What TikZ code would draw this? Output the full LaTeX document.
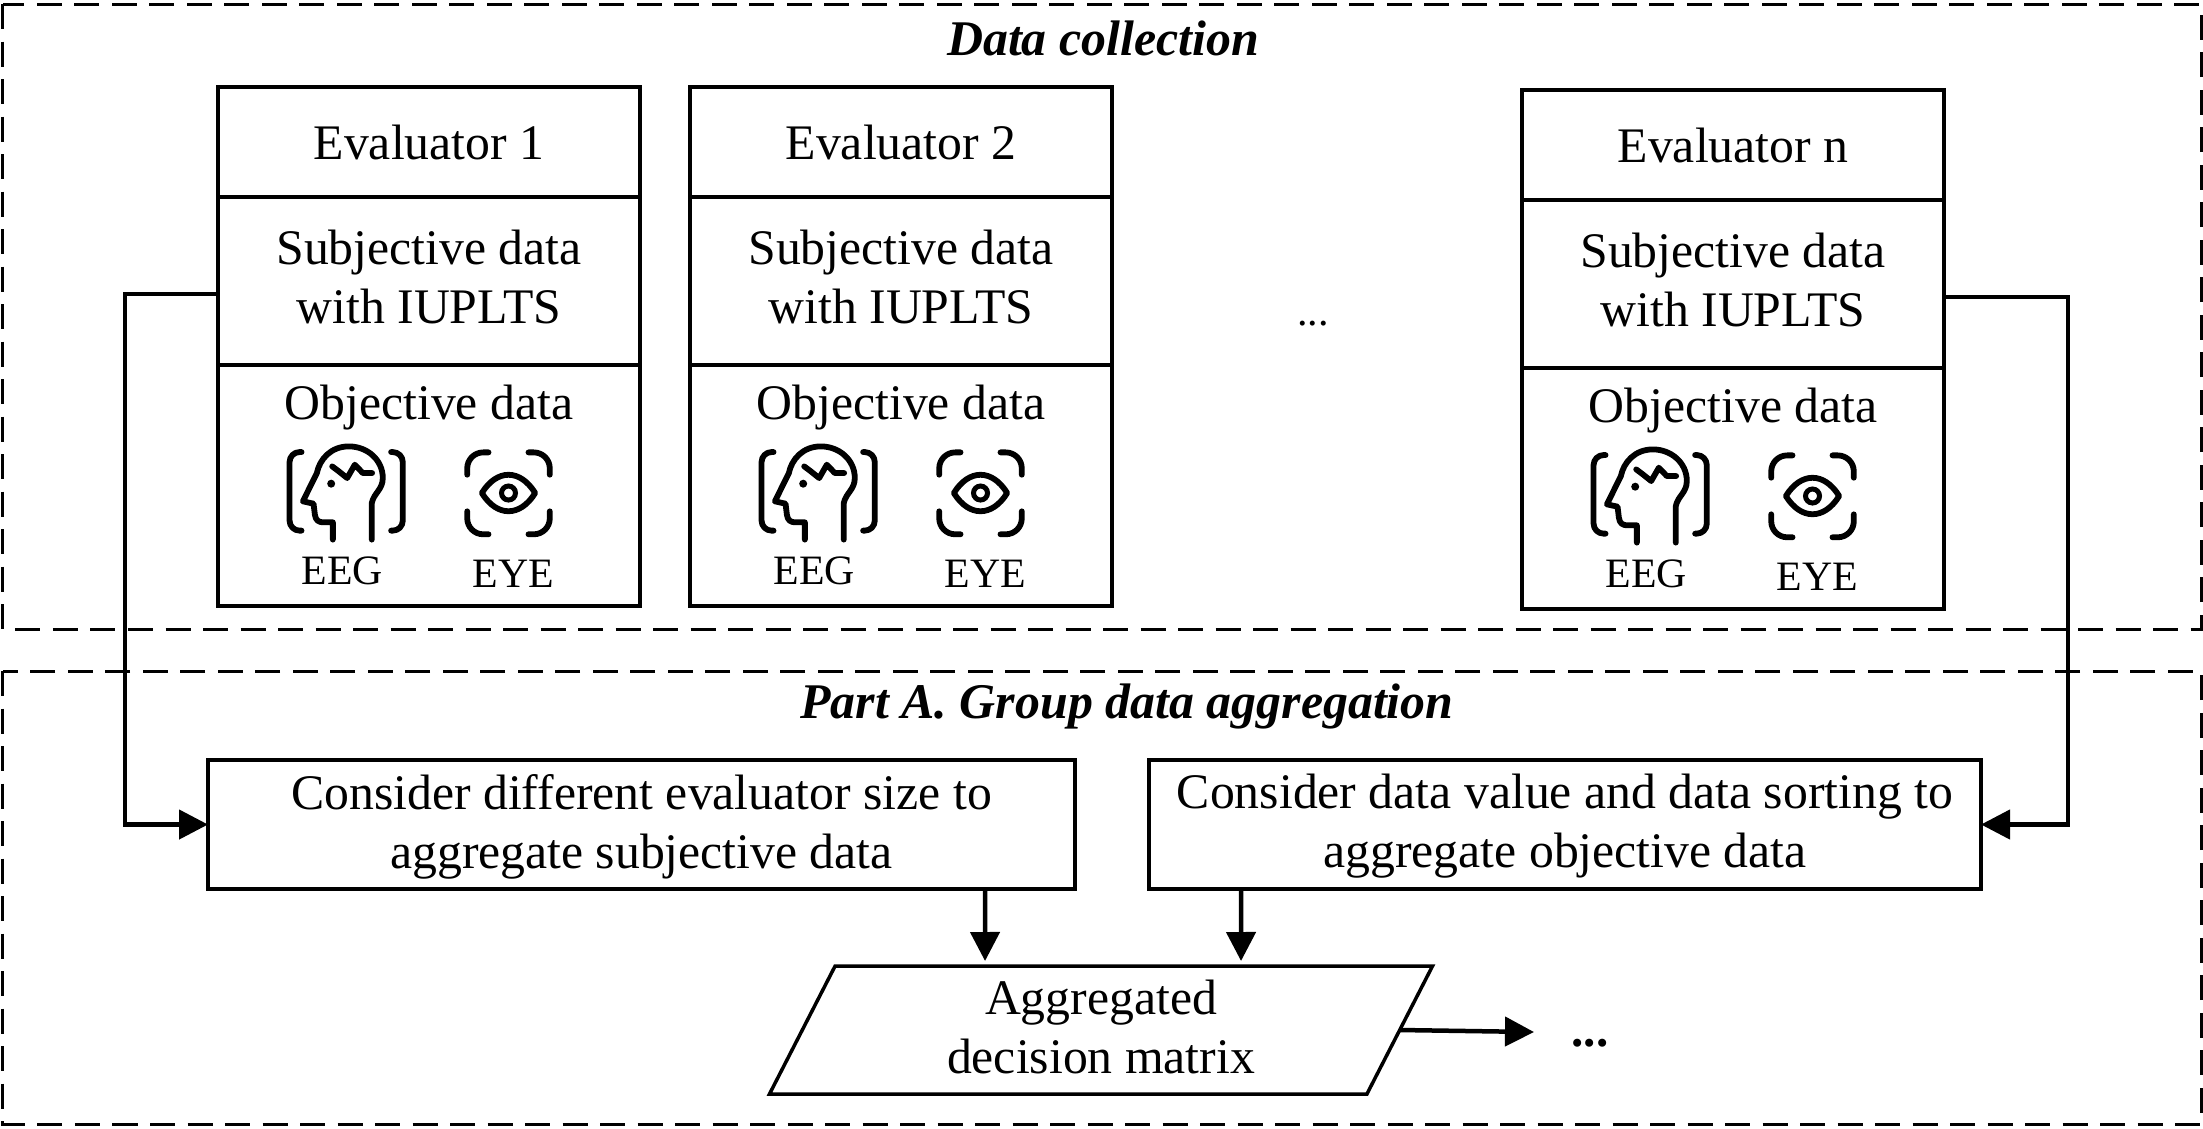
\documentclass[tikz,border=0pt]{standalone}
\usepackage{fontspec}
\setmainfont{Liberation Serif}
\usetikzlibrary{arrows.meta,shapes.geometric}
\tikzset{
  framebox/.style={line width=.03cm, dash pattern=on .25cm off .125cm},
  bodytext/.style={font=\fontsize{14.15}{16.8}\selectfont, align=center, inner sep=0pt},
  titletext/.style={font=\fontsize{14.2}{17}\selectfont\bfseries\itshape, inner sep=0pt, anchor=base},
  cellbox/.style={draw, line width=.035cm, bodytext, minimum width=4.22cm, outer sep=0pt},
  smalltext/.style={font=\fontsize{11.9}{14}\selectfont, inner sep=0pt, anchor=base},
  conn/.style={line width=.045cm, -{Triangle[length=.29cm,width=.29cm]}},
  iconline/.style={line width=.058cm, line cap=round, line join=round},
  pics/headicon/.style={code={
    \begin{scope}[x=.0333cm,y=.0333cm]
      \draw[iconline] (7.9,-14) -- (7.9,-3) .. controls (8.5,0) and (11.2,1) .. (11.2,4.5)
        .. controls (11.2,10) and (6.5,14) .. (1,14) .. controls (-4.5,14) and (-7.8,10) .. (-8.6,6)
        -- (-12.8,-2.5) -- (-9.6,-3.2) -- (-9.2,-6.5) .. controls (-9,-8.2) and (-8,-8.8) .. (-6.8,-8.8)
        -- (-3.8,-8.8) -- (-3.8,-14);
      \draw[iconline] (-4,8) -- (-2,6.5) -- (.5,4.5) -- (2.8,8.5) -- (5.2,6) -- (8,6);
      \fill (-4.3,2.8) circle (1.2);
      \draw[iconline, rounded corners=.1cm] (-13.2,12.3) -- (-16.8,12.3) -- (-16.8,-11.3) -- (-13.2,-11.3);
      \draw[iconline, rounded corners=.1cm] (13.7,12.3) -- (17.2,12.3) -- (17.2,-11.3) -- (13.7,-11.3);
    \end{scope}
  }},
  pics/eyeicon/.style={code={
    \begin{scope}[x=.0333cm,y=.0333cm]
      \draw[iconline] (-8,0) .. controls (-3.5,7.3) and (3.5,7.3) .. (8,0) .. controls (3.5,-7.3) and (-3.5,-7.3) .. cycle;
      \draw[line width=.05cm] (0,0) circle (2.1);
      \draw[iconline, rounded corners=.16cm] (-12.4,5.5) -- (-12.4,12.2) -- (-6,12.2);
      \draw[iconline, rounded corners=.16cm] (12.4,5.5) -- (12.4,12.2) -- (6,12.2);
      \draw[iconline, rounded corners=.16cm] (-12.4,-5.5) -- (-12.4,-12.4) -- (-6,-12.4);
      \draw[iconline, rounded corners=.16cm] (12.4,-5.5) -- (12.4,-12.4) -- (6,-12.4);
    \end{scope}
  }}
}
\begin{document}
\begin{tikzpicture}
  \useasboundingbox (0,0) rectangle (22.03,-11.28);

  % Frames
  \draw[framebox] (.03,-.04) rectangle (22.01,-6.29);
  \draw[framebox] (.03,-6.71) rectangle (22.01,-11.24);
  \node[titletext] (collect) at (11.03,-.55) {Data collection};
  \node[titletext] (parta) at (11.27,-7.18) {Part A. Group data aggregation};

  % Evaluator 1
  \node[cellbox, minimum height=1.10cm, anchor=north west] (ev1) at (2.18,-.87) {Evaluator 1};
  \node[cellbox, minimum height=1.68cm, anchor=north] (sub1) at (ev1.south) {};
  \node[bodytext] (subtxt1) at ([yshift=.045cm]sub1.center) {Subjective data\\with IUPLTS};
  \node[cellbox, minimum height=2.41cm, anchor=north] (obj1) at (sub1.south) {};
  \node[bodytext, anchor=base] (objtxt1) at ([yshift=-.545cm]obj1.north) {Objective data};
  \pic at ([shift={(-.835,-1.28)}]obj1.north) {headicon};
  \pic at ([shift={(.795,-1.28)}]obj1.north) {eyeicon};
  \node[smalltext] (eeg1) at ([shift={(-.865,-2.19)}]obj1.north) {EEG};
  \node[smalltext] (eye1) at ([shift={(.845,-2.22)}]obj1.north) {EYE};

  % Evaluator 2
  \node[cellbox, minimum height=1.10cm, anchor=north west] (ev2) at (6.90,-.87) {Evaluator 2};
  \node[cellbox, minimum height=1.68cm, anchor=north] (sub2) at (ev2.south) {};
  \node[bodytext] (subtxt2) at ([yshift=.045cm]sub2.center) {Subjective data\\with IUPLTS};
  \node[cellbox, minimum height=2.41cm, anchor=north] (obj2) at (sub2.south) {};
  \node[bodytext, anchor=base] (objtxt2) at ([yshift=-.545cm]obj2.north) {Objective data};
  \pic at ([shift={(-.835,-1.28)}]obj2.north) {headicon};
  \pic at ([shift={(.795,-1.28)}]obj2.north) {eyeicon};
  \node[smalltext] (eeg2) at ([shift={(-.865,-2.19)}]obj2.north) {EEG};
  \node[smalltext] (eye2) at ([shift={(.845,-2.22)}]obj2.north) {EYE};

  \node[font=\fontsize{12}{14}\selectfont, inner sep=0pt, anchor=base] (gap) at (13.13,-3.25) {...};

  % Evaluator n
  \node[cellbox, minimum height=1.10cm, anchor=north west] (evn) at (15.22,-.90) {Evaluator n};
  \node[cellbox, minimum height=1.68cm, anchor=north] (subn) at (evn.south) {};
  \node[bodytext] (subtxtn) at ([yshift=.045cm]subn.center) {Subjective data\\with IUPLTS};
  \node[cellbox, minimum height=2.41cm, anchor=north] (objn) at (subn.south) {};
  \node[bodytext, anchor=base] (objtxtn) at ([yshift=-.545cm]objn.north) {Objective data};
  \pic at ([shift={(-.835,-1.28)}]objn.north) {headicon};
  \pic at ([shift={(.795,-1.28)}]objn.north) {eyeicon};
  \node[smalltext] (eegn) at ([shift={(-.865,-2.19)}]objn.north) {EEG};
  \node[smalltext] (eyen) at ([shift={(.845,-2.22)}]objn.north) {EYE};

  % Aggregation
  \node[cellbox, minimum width=8.67cm, minimum height=1.29cm] (cons1) at (6.415,-8.245) {};
  \node[bodytext] (constxt1) at ([yshift=-.02cm]cons1.center) {Consider different evaluator size to\\aggregate subjective data};
  \node[cellbox, minimum width=8.32cm, minimum height=1.29cm] (cons2) at (15.65,-8.245) {};
  \node[bodytext] (constxt2) at ([yshift=-.02cm]cons2.center) {Consider data value and data sorting to\\aggregate objective data};
  \node[draw, line width=.035cm, bodytext, trapezium, trapezium stretches=true, trapezium left angle=68,
    trapezium right angle=112, minimum width=6.64cm, minimum height=1.28cm, outer sep=0pt] (mat) at (11.01,-10.30)
    {\phantom{Aggregated}\\\phantom{decision matrix}};
  \node[bodytext] (mattxt) at ([yshift=.03cm]mat.center) {Aggregated\\decision matrix};
  \node[font=\fontsize{14}{16}\bfseries\selectfont, inner sep=0pt, anchor=base] (more) at (15.90,-10.46) {...};
  \coordinate (outend) at (15.34,-10.32);

  % Connectors
  \draw[conn] ([yshift=-.13cm]sub1.west) -- ++(-.93,0) |- (cons1.west);
  \draw[conn] ([yshift=-.13cm]subn.east) -- ++(1.24,0) |- (cons2.east);
  \draw[conn, shorten >=.05cm] ([xshift=-.90cm]cons1.south east) -- ([xshift=-1.16cm]mat.north);
  \draw[conn, shorten >=.05cm] ([xshift=.92cm]cons2.south west) -- ([xshift=1.40cm]mat.north);
  \draw[conn] (mat.east) -- (outend);
\end{tikzpicture}
\end{document}
